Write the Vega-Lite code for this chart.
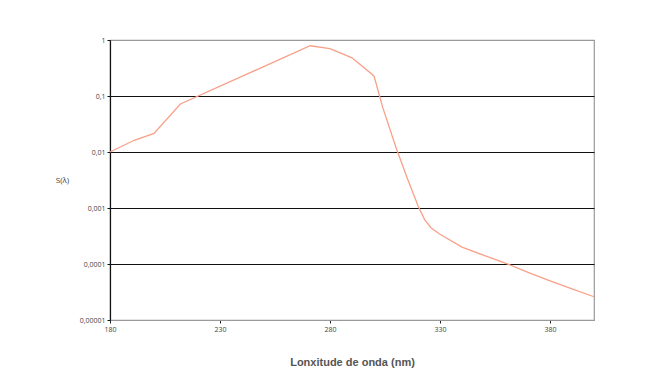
{
  "$schema": "https://vega.github.io/schema/vega-lite/v6.json",
  "width": 484,
  "height": 280,
  "autosize": {"type": "none"},
  "padding": {"left": 110, "top": 40, "right": 61, "bottom": 60},
  "background": "white",
  "config": {
    "view": {"stroke": "#9a9a9a", "strokeWidth": 1.2},
    "font": "Open Sans"
  },
  "data": {
    "values": [
      {"wl": 180, "s": 0.01},
      {"wl": 191, "s": 0.0162},
      {"wl": 200, "s": 0.0215},
      {"wl": 212, "s": 0.072},
      {"wl": 271, "s": 0.79},
      {"wl": 280, "s": 0.70},
      {"wl": 290, "s": 0.48},
      {"wl": 300, "s": 0.228},
      {"wl": 304, "s": 0.062},
      {"wl": 310, "s": 0.012},
      {"wl": 315, "s": 0.0035},
      {"wl": 320, "s": 0.0011},
      {"wl": 323, "s": 0.00062},
      {"wl": 326, "s": 0.00044},
      {"wl": 330, "s": 0.00034},
      {"wl": 340, "s": 0.0002},
      {"wl": 350, "s": 0.000142},
      {"wl": 360, "s": 0.000103},
      {"wl": 370, "s": 0.000071},
      {"wl": 380, "s": 0.00005},
      {"wl": 390, "s": 0.000036},
      {"wl": 400, "s": 0.000026}
    ]
  },
  "mark": {"type": "line", "color": "#f8a089", "strokeWidth": 1.3},
  "encoding": {
    "x": {
      "field": "wl",
      "type": "quantitative",
      "scale": {"domain": [180, 400], "nice": false, "zero": false},
      "axis": {
        "values": [180, 230, 280, 330, 380],
        "grid": false,
        "labelFlush": false,
        "domainColor": "#9a9a9a",
        "tickColor": "#222",
        "tickSize": 3,
        "labelFontSize": 7,
        "labelColor": "#444",
        "labelPadding": 2,
        "title": "Lonxitude de onda (nm)",
        "titleFont": "Liberation Sans",
        "titleFontSize": 11,
        "titleFontWeight": "bold",
        "titleColor": "#555",
        "titleY": 42,
        "titleBaseline": "middle"
      }
    },
    "y": {
      "field": "s",
      "type": "quantitative",
      "scale": {"type": "log", "domain": [0.00001, 1], "nice": false},
      "axis": {
        "values": [0.00001, 0.0001, 0.001, 0.01, 0.1, 1],
        "labelExpr": "replace(format(datum.value, '.5~f'), '.', ',')",
        "labelFlush": false,
        "grid": true,
        "gridColor": {"condition": {"test": "datum.value == 0.00001 || datum.value == 1", "value": "#9a9a9a"}, "value": "#111"},
        "gridWidth": 1.2,
        "domainColor": "#111",
        "domainWidth": 1.2,
        "tickColor": "#111",
        "tickSize": 3,
        "labelFontSize": 7,
        "labelColor": "#444",
        "labelPadding": 2,
        "title": "S(λ)",
        "titleAngle": 0,
        "titleFontSize": 8,
        "titleFontWeight": "normal",
        "titleColor": "#444",
        "titleX": -48,
        "titleY": 140,
        "titleAlign": "center",
        "titleBaseline": "middle"
      }
    }
  }
}
